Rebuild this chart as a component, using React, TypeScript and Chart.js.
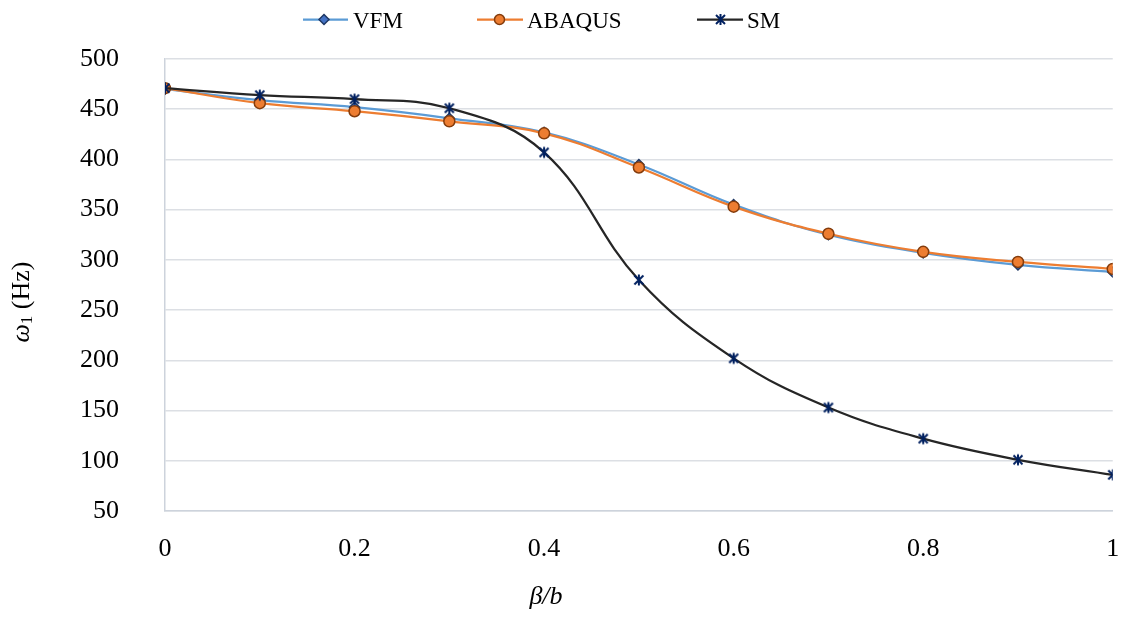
import { useEffect, useRef } from 'react';
import { Chart, registerables } from 'chart.js';
Chart.register(...registerables);

const xValues = [0, 0.1, 0.2, 0.3, 0.4, 0.5, 0.6, 0.7, 0.8, 0.9, 1];
const vfmValues = [470, 459, 452, 441, 427, 395, 355, 325, 307, 295, 288];
const abaqusValues = [471, 456, 448, 438, 426, 392, 353, 326, 308, 298, 291];
const smValues = [471, 464, 460, 451, 407, 280, 202, 153, 122, 101, 86];
const xTickLabels = ['0', '0.2', '0.4', '0.6', '0.8', '1'];
const seriesNames = ['VFM', 'ABAQUS', 'SM'];

const FONT = "'Liberation Serif', 'Times New Roman', serif";
const VFM_LINE = '#5B9BD5';
const VFM_FILL = '#4472C4';
const VFM_EDGE = '#1F3864';
const AB_LINE = '#ED7D31';
const AB_EDGE = '#843C0C';
const SM_LINE = '#262626';
const SM_MARK = '#002060';

const AREA = { left: 165, right: 1113, top: 59, bottom: 511 };

function drawStar(ctx: CanvasRenderingContext2D, cx: number, cy: number, r: number) {
  ctx.save();
  ctx.strokeStyle = SM_MARK;
  ctx.lineWidth = 2;
  ctx.lineCap = 'butt';
  ctx.beginPath();
  ctx.moveTo(cx - r, cy - r);
  ctx.lineTo(cx + r, cy + r);
  ctx.moveTo(cx + r, cy - r);
  ctx.lineTo(cx - r, cy + r);
  ctx.moveTo(cx, cy - r - 1);
  ctx.lineTo(cx, cy + r + 1);
  ctx.stroke();
  ctx.restore();
}

function makeStarImage() {
  const c = document.createElement('canvas');
  c.width = 14;
  c.height = 14;
  const ctx = c.getContext('2d')!;
  drawStar(ctx, 7, 7, 4.5);
  return c;
}

const titlesAndLegend = {
  id: 'titlesAndLegend',
  afterDraw(chart: any) {
    const ctx: CanvasRenderingContext2D = chart.ctx;
    ctx.save();
    const ly = 19.5;
    const items = [
      { x0: 303, x1: 348, mx: 324, tx: 353, color: VFM_LINE, kind: 'diamond' },
      { x0: 477, x1: 523, mx: 499.5, tx: 527, color: AB_LINE, kind: 'circle' },
      { x0: 697, x1: 743, mx: 720.5, tx: 747, color: SM_LINE, kind: 'star' },
    ];
    items.forEach((it, i) => {
      ctx.strokeStyle = it.color;
      ctx.lineWidth = 2.25;
      ctx.beginPath();
      ctx.moveTo(it.x0, ly);
      ctx.lineTo(it.x1, ly);
      ctx.stroke();
      if (it.kind === 'diamond') {
        ctx.beginPath();
        ctx.moveTo(it.mx, ly - 5);
        ctx.lineTo(it.mx + 5, ly);
        ctx.lineTo(it.mx, ly + 5);
        ctx.lineTo(it.mx - 5, ly);
        ctx.closePath();
        ctx.fillStyle = VFM_FILL;
        ctx.fill();
        ctx.strokeStyle = VFM_EDGE;
        ctx.lineWidth = 1.5;
        ctx.stroke();
      } else if (it.kind === 'circle') {
        ctx.beginPath();
        ctx.arc(it.mx, ly, 5, 0, Math.PI * 2);
        ctx.fillStyle = AB_LINE;
        ctx.fill();
        ctx.strokeStyle = AB_EDGE;
        ctx.lineWidth = 1.5;
        ctx.stroke();
      } else {
        drawStar(ctx, it.mx, ly, 4.5);
      }
      ctx.fillStyle = '#000';
      ctx.font = `23px ${FONT}`;
      ctx.textAlign = 'left';
      ctx.textBaseline = 'alphabetic';
      ctx.fillText(seriesNames[i], it.tx, 28);
    });

    ctx.translate(22, 302);
    ctx.rotate(-Math.PI / 2);
    ctx.fillStyle = '#000';
    ctx.textBaseline = 'middle';
    ctx.textAlign = 'left';
    ctx.font = `italic 26px ${FONT}`;
    const w1 = ctx.measureText('ω').width;
    ctx.font = `17px ${FONT}`;
    const w2 = ctx.measureText('1').width;
    ctx.font = `26px ${FONT}`;
    const w3 = ctx.measureText(' (Hz)').width;
    let px = -(w1 + w2 + w3) / 2;
    ctx.font = `italic 26px ${FONT}`;
    ctx.fillText('ω', px, 0);
    px += w1;
    ctx.font = `17px ${FONT}`;
    ctx.fillText('1', px, 6);
    px += w2;
    ctx.font = `26px ${FONT}`;
    ctx.fillText(' (Hz)', px, 0);
    ctx.restore();

    ctx.save();
    ctx.fillStyle = '#000';
    ctx.font = `italic 26px ${FONT}`;
    ctx.textAlign = 'center';
    ctx.textBaseline = 'alphabetic';
    ctx.fillText('β/b', 546, 604);
    ctx.restore();
  },
};

export default function App() {
  const canvasRef = useRef<HTMLCanvasElement | null>(null);

  useEffect(() => {
    const canvas = canvasRef.current;
    if (!canvas) return;
    const star = makeStarImage();
    const toPts = (arr: number[]) => arr.map((y, i) => ({ x: xValues[i], y }));
    const fit = { yWidth: AREA.left, xHeight: 617 - AREA.bottom, padRight: 1121 - AREA.right, padTop: AREA.top };
    const chart = new Chart(canvas, {
      type: 'line',
      data: {
        datasets: [
          {
            label: seriesNames[0],
            data: toPts(vfmValues),
            borderColor: VFM_LINE,
            borderWidth: 2.25,
            backgroundColor: VFM_FILL,
            pointStyle: 'rectRot',
            pointRadius: 5,
            pointBackgroundColor: VFM_FILL,
            pointBorderColor: VFM_EDGE,
            pointBorderWidth: 1.5,
            tension: 0.4,
            order: 3,
          },
          {
            label: seriesNames[1],
            data: toPts(abaqusValues),
            borderColor: AB_LINE,
            borderWidth: 2.25,
            backgroundColor: AB_LINE,
            pointStyle: 'circle',
            pointRadius: 5.5,
            pointBackgroundColor: AB_LINE,
            pointBorderColor: AB_EDGE,
            pointBorderWidth: 1.5,
            tension: 0.4,
            order: 2,
          },
          {
            label: seriesNames[2],
            data: toPts(smValues),
            borderColor: SM_LINE,
            borderWidth: 2.25,
            backgroundColor: SM_MARK,
            pointStyle: star as any,
            pointRadius: 6,
            tension: 0.4,
            order: 1,
          },
        ],
      },
      options: {
        animation: false,
        responsive: true,
        maintainAspectRatio: false,
        layout: { padding: { left: 0, top: fit.padTop, right: fit.padRight, bottom: 0 } },
        plugins: {
          legend: { display: false },
          tooltip: { enabled: false },
          title: { display: false },
        },
        scales: {
          x: {
            type: 'linear',
            min: 0,
            max: 1,
            grid: { display: false, drawTicks: false },
            border: { display: true, color: '#CDD3DC', width: 1.5 },
            ticks: {
              stepSize: 0.2,
              padding: 23,
              color: '#000',
              font: { family: FONT, size: 26 },
              maxRotation: 0,
              autoSkip: false,
              callback: (v: any) => {
                const idx = Math.round(Number(v) * 5);
                return xTickLabels[idx] ?? '';
              },
            },
            afterFit: (axis: any) => {
              axis.height = fit.xHeight;
              axis.paddingLeft = 0;
              axis.paddingRight = 0;
            },
          },
          y: {
            type: 'linear',
            min: 50,
            max: 500,
            grid: { color: '#DCDFE4', lineWidth: 1.5, drawTicks: false },
            border: { display: true, color: '#CDD3DC', width: 1.5 },
            ticks: {
              stepSize: 50,
              padding: 46,
              color: '#000',
              font: { family: FONT, size: 26 },
              callback: (v: any) => String(v),
            },
            afterFit: (axis: any) => {
              axis.width = fit.yWidth;
              axis.paddingTop = 0;
              axis.paddingBottom = 0;
            },
          },
        },
      },
      plugins: [titlesAndLegend],
    });
    for (let k = 0; k < 3; k++) {
      const a = chart.chartArea;
      const dl = AREA.left - a.left;
      const dr = a.right - AREA.right;
      const dt = AREA.top - a.top;
      const db = a.bottom - AREA.bottom;
      if (Math.abs(dl) < 0.5 && Math.abs(dr) < 0.5 && Math.abs(dt) < 0.5 && Math.abs(db) < 0.5) break;
      fit.yWidth += dl;
      fit.padRight += dr;
      fit.padTop += dt;
      fit.xHeight += db;
      (chart.options.layout as any).padding = { left: 0, top: fit.padTop, right: fit.padRight, bottom: 0 };
      chart.update();
    }
    return () => chart.destroy();
  }, []);

  return (
    <div style={{ position: 'fixed', left: 0, top: 0, width: 1121, height: 617, background: '#fff' }}>
      <canvas ref={canvasRef} />
    </div>
  );
}
